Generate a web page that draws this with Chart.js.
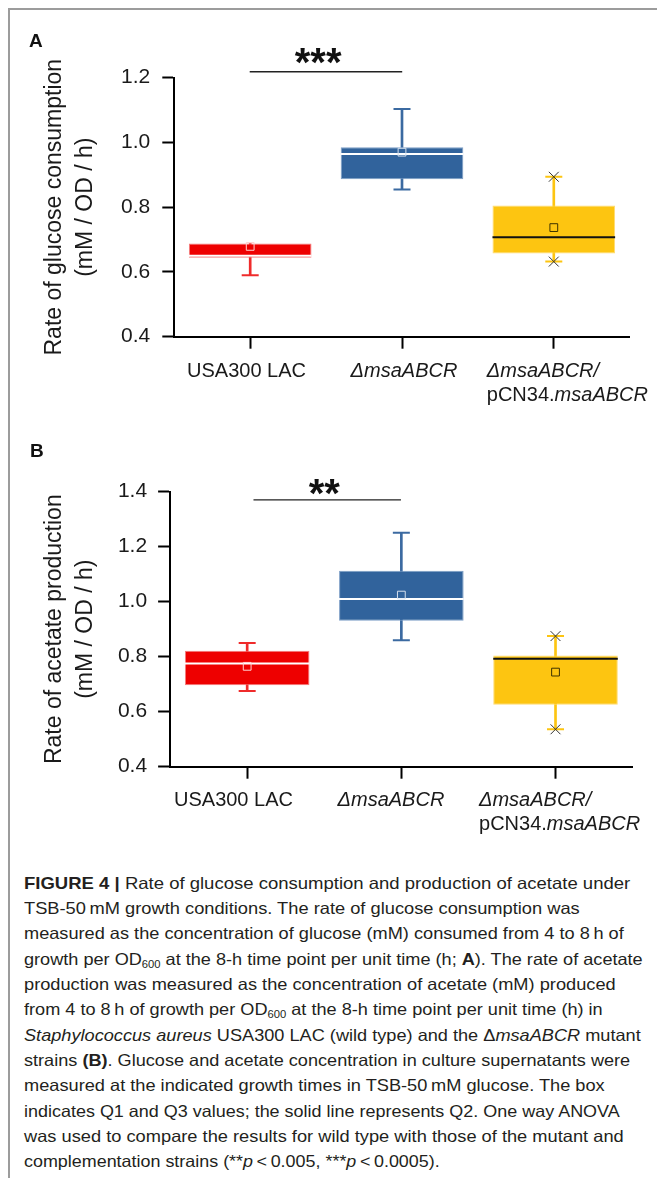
<!DOCTYPE html>
<html><head><meta charset="utf-8">
<script src="https://cdn.jsdelivr.net/npm/chart.js@4.4.1/dist/chart.umd.min.js"></script>
<style>
html,body{margin:0;padding:0;background:#fff;}
body{width:657px;height:1178px;position:relative;overflow:hidden;font-family:"Liberation Sans",Arial,sans-serif;}
#frame{position:absolute;left:8px;top:8px;width:700px;height:1250px;border-top:2px solid #9c9c9c;border-left:2px solid #9c9c9c;}
canvas{position:absolute;left:0;}
#cA{top:0}
#cB{top:420px}
.cap{position:absolute;left:24.3px;white-space:nowrap;font-size:16.5px;line-height:25px;color:#231f20;transform-origin:0 50%;}
.cap sub{font-size:62%;line-height:0;vertical-align:-0.3em;}
</style></head><body>
<div id="frame"></div>
<canvas id="cA" width="657" height="420"></canvas>
<canvas id="cB" width="657" height="430"></canvas>
<div id="caption"></div>
<script>
// ---------- DATA ----------
const categories = ['USA300 LAC', 'ΔmsaABCR', 'ΔmsaABCR/ pCN34.msaABCR'];
// rich label lines: [text, italic]
const categoryLines = [
  [[['USA300 LAC', false]]],
  [[['ΔmsaABCR', true]]],
  [[['ΔmsaABCR/', true]], [['pCN34.', false], ['msaABCR', true]]]
];
// Panel A: glucose consumption rate
const glucoseQ1     = [0.644, 0.886, 0.657];
const glucoseQ3     = [0.688, 0.985, 0.805];
const glucoseMedian = [0.650, 0.964, 0.707];
const glucoseMean   = [0.679, 0.970, 0.737];
const glucoseMin    = [0.590, 0.855, 0.632];
const glucoseMax    = [0.688, 1.103, 0.894];
const glucoseTicks  = [0.4, 0.6, 0.8, 1.0, 1.2];
// Panel B: acetate production rate
const acetateQ1     = [0.696, 0.931, 0.625];
const acetateQ3     = [0.822, 1.113, 0.804];
const acetateMedian = [0.775, 1.010, 0.793];
const acetateMean   = [0.765, 1.024, 0.744];
const acetateMin    = [0.675, 0.860, 0.536];
const acetateMax    = [0.850, 1.251, 0.875];
const acetateTicks  = [0.4, 0.6, 0.8, 1.0, 1.2, 1.4];
// whisker ends marked with a cross
const markedWhiskers = [false, false, true];
// significance brackets
const glucoseSig = {from: 0, to: 1, value: 1.2184, text: '***'};
const acetateSig = {from: 0, to: 1, value: 1.370, text: '**'};

// ---------- STYLE ----------
const FONT = '"Liberation Sans", Arial, sans-serif';
const fills = ['#ee0000', '#31639c', '#fdc511'];
const borders = ['#f47c7c', '#7c9ec6', '#ffdb70'];
const whiskerColors = ['#ef2b2b', '#3b6aa1', '#fdc511'];
const medianColors = ['#ffffff', '#ffffff', '#111111'];
const meanColors = ['#ffd3d3', '#d6e1ee', '#3d3300'];

const annotPlugin = {
  id: 'annot',
  afterDraw(chart, args, o) {
    const ctx = chart.ctx, xs = chart.scales.x, ys = chart.scales.y;
    ctx.save();
    ctx.fillStyle = '#111';
    ctx.textAlign = 'left'; ctx.textBaseline = 'alphabetic';
    ctx.font = 'bold 19px ' + FONT;
    ctx.fillText(o.letter, o.letterX, o.letterY);
    // significance bracket
    const s = o.sig;
    const y = ys.getPixelForValue(s.value);
    const x0 = xs.getPixelForValue(s.from), x1 = xs.getPixelForValue(s.to);
    ctx.strokeStyle = '#222'; ctx.lineWidth = 1.3;
    ctx.beginPath(); ctx.moveTo(x0 + o.sigDx[0], y); ctx.lineTo(x1 + o.sigDx[1], y); ctx.stroke();
    ctx.font = 'bold 40px ' + FONT; ctx.textAlign = 'center'; ctx.fillStyle = '#111';
    ctx.fillText(s.text, (x0 + x1) / 2 + o.starDx, y - o.starRise + 23);
    // category labels
    ctx.fillStyle = '#1a1a1a'; ctx.textBaseline = 'middle'; ctx.textAlign = 'left';
    const fontFor = it => (it ? 'italic ' : '') + '20px ' + FONT;
    categoryLines.forEach((lines, i) => {
      const lab = o.labels[i];
      const tx = xs.getPixelForValue(i) + lab.dx;
      lines.forEach((segs, li) => {
        const yy = chart.chartArea.bottom + o.labelY[li];
        const widths = segs.map(([t, it]) => { ctx.font = fontFor(it); return ctx.measureText(t).width; });
        const total = widths.reduce((a, b) => a + b, 0);
        let x = lab.align === 'center' ? tx - total / 2 : tx;
        segs.forEach(([t, it], k) => { ctx.font = fontFor(it); ctx.fillText(t, x, yy); x += widths[k]; });
      });
    });
    ctx.restore();
  }
};

function makeChart(id, d, L) {
  const boxData = d.q1.map((v, i) => [v, d.q3[i]]);
  const whiskerData = d.min.map((v, i) => [v, d.max[i]]);
  const halfBox = ctx => {
    const el = ctx.chart.getDatasetMeta(3).data[ctx.dataIndex];
    return el && el.width ? el.width / 2 : 61;
  };
  return new Chart(document.getElementById(id), {
    type: 'bar',
    data: {
      labels: categories,
      datasets: [
        {type: 'bar', data: whiskerData, backgroundColor: whiskerColors, borderWidth: 0, barThickness: 2, grouped: false, order: 6},
        {type: 'line', data: d.min, showLine: false, pointStyle: 'line', pointRadius: 8.5, pointBorderWidth: 2, pointBorderColor: whiskerColors, order: 5},
        {type: 'line', data: d.max, showLine: false, pointStyle: 'line',
          pointRadius: c => (d.max[c.dataIndex] > d.q3[c.dataIndex] ? 8.5 : 0), pointBorderWidth: 2, pointBorderColor: whiskerColors, order: 5},
        {type: 'bar', data: boxData, backgroundColor: fills, borderColor: borders, borderWidth: 1, borderSkipped: false,
          barPercentage: 0.808, categoryPercentage: 1, grouped: false, order: 4},
        {type: 'line', data: d.med, showLine: false, pointStyle: 'line', pointRadius: halfBox, pointBorderWidth: 2, pointBorderColor: medianColors, order: 3},
        {type: 'line', data: d.mean, showLine: false, pointStyle: 'rect', pointRadius: 5.5, pointBorderWidth: 1,
          pointBorderColor: meanColors, pointBackgroundColor: 'rgba(0,0,0,0)', order: 2},
        {type: 'line', data: d.min, showLine: false, pointStyle: 'crossRot', pointRadius: c => markedWhiskers[c.dataIndex] ? 7 : 0,
          pointBorderWidth: 1, pointBorderColor: '#333', order: 1},
        {type: 'line', data: d.max, showLine: false, pointStyle: 'crossRot', pointRadius: c => markedWhiskers[c.dataIndex] ? 7 : 0,
          pointBorderWidth: 1, pointBorderColor: '#333', order: 1}
      ]
    },
    options: {
      responsive: false, animation: false, devicePixelRatio: 1,
      layout: {autoPadding: false, padding: {left: 0, top: L.top, right: L.right, bottom: 0}},
      plugins: {legend: {display: false}, tooltip: {enabled: false}, annot: L.annot},
      scales: {
        x: {
          offset: true,
          grid: {offset: false, drawOnChartArea: false, drawTicks: true, tickLength: 12, tickWidth: 2, tickColor: '#000'},
          border: {display: true, color: '#000', width: 2},
          ticks: {display: false},
          afterFit: s => { s.height = L.xHeight; }
        },
        y: {
          min: d.ticks[0], max: d.ticks[d.ticks.length - 1],
          afterBuildTicks: s => { s.ticks = d.ticks.map(v => ({value: v})); },
          ticks: {callback: v => Number(v).toFixed(1), font: {family: FONT, size: 21}, color: '#1a1a1a', padding: L.tickPad},
          grid: {drawOnChartArea: false, drawTicks: true, tickLength: 12, tickWidth: 2, tickColor: '#000'},
          border: {display: true, color: '#000', width: 2},
          title: {display: true, text: d.title, color: '#1a1a1a', font: {family: FONT, size: 23, lineHeight: 1.36}, padding: {top: 39, bottom: 0}},
          afterFit: s => { s.width = L.yWidth; }
        }
      }
    },
    plugins: [annotPlugin]
  });
}

makeChart('cA', {
  q1: glucoseQ1, q3: glucoseQ3, med: glucoseMedian, mean: glucoseMean, min: glucoseMin, max: glucoseMax,
  ticks: glucoseTicks, title: ['Rate of glucose consumption', '(mM / OD / h)']
}, {
  top: 77.7, right: 27.3, yWidth: 174.3, xHeight: 420 - 336.7, tickPad: 12,
  annot: {letter: 'A', letterX: 29, letterY: 46.7, sig: glucoseSig, sigDx: [-0.5, 0.2], starDx: -8, starRise: 18.7,
    labels: [{dx: -3.7, align: 'center'}, {dx: 2, align: 'center'}, {dx: -67, align: 'left'}], labelY: [35, 59]}
});

makeChart('cB', {
  q1: acetateQ1, q3: acetateQ3, med: acetateMedian, mean: acetateMean, min: acetateMin, max: acetateMax,
  ticks: acetateTicks, title: ['Rate of acetate production', '(mM / OD / h)']
}, {
  top: 71.7, right: 24.4, yWidth: 170.1, xHeight: 430 - 346.7, tickPad: 11,
  annot: {letter: 'B', letterX: 30, letterY: 37, sig: acetateSig, sigDx: [6.3, -0.4], starDx: 0, starRise: 16,
    labels: [{dx: -13.7, align: 'center'}, {dx: -10.4, align: 'center'}, {dx: -76.5, align: 'left'}], labelY: [33.3, 57.5]}
});

// ---------- CAPTION ----------
const captionLines = [
  '<b>FIGURE 4</b> <b>|</b> Rate of glucose consumption and production of acetate under',
  'TSB-50&thinsp;mM growth conditions. The rate of glucose consumption was',
  'measured as the concentration of glucose (mM) consumed from 4 to 8&thinsp;h of',
  'growth per OD<sub>600</sub> at the 8-h time point per unit time (h; <b>A</b>). The rate of acetate',
  'production was measured as the concentration of acetate (mM) produced',
  'from 4 to 8&thinsp;h of growth per OD<sub>600</sub> at the 8-h time point per unit time (h) in',
  '<i>Staphylococcus aureus</i> USA300 LAC (wild type) and the Δ<i>msaABCR</i> mutant',
  'strains <b>(B)</b>. Glucose and acetate concentration in culture supernatants were',
  'measured at the indicated growth times in TSB-50&thinsp;mM glucose. The box',
  'indicates Q1 and Q3 values; the solid line represents Q2. One way ANOVA',
  'was used to compare the results for wild type with those of the mutant and',
  'complementation strains (**<i>p</i>&thinsp;&lt;&thinsp;0.005, ***<i>p</i>&thinsp;&lt;&thinsp;0.0005).'
];
const captionRight = [630.5, 580, 624, 643, 616, 603, 641, 630.5, 605, 620, 624, 440];
const capHost = document.getElementById('caption');
captionLines.forEach((html, i) => {
  const el = document.createElement('div');
  el.className = 'cap';
  el.innerHTML = html;
  el.style.top = (883.3 + 25.3 * i - 12.5) + 'px';
  capHost.appendChild(el);
  const w = el.getBoundingClientRect().width;
  el.style.transform = 'scaleX(' + ((captionRight[i] - 24.3) / w) + ')';
});
</script>
</body></html>
